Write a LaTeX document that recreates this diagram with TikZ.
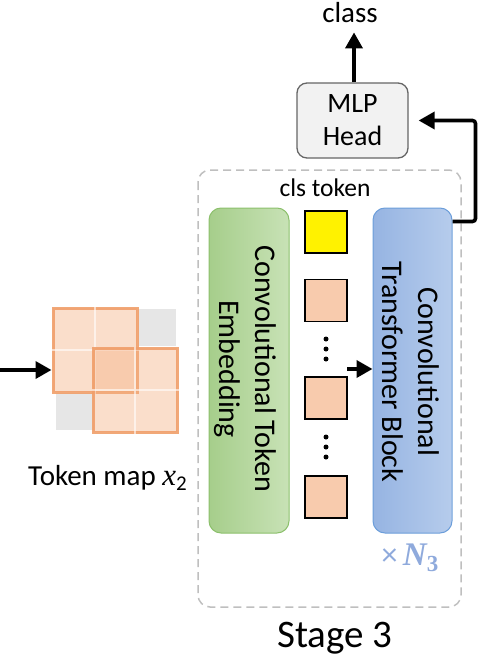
\documentclass[tikz,border=0pt]{standalone}
\usepackage{fontspec}
\setmainfont{Carlito}
\newfontfamily\serifm{Liberation Serif}
\usetikzlibrary{arrows.meta,calc}
\definecolor{grnL}{RGB}{166,206,139}
\definecolor{grnR}{RGB}{200,226,182}
\definecolor{grnB}{RGB}{140,192,108}
\definecolor{bluL}{RGB}{150,180,226}
\definecolor{bluR}{RGB}{182,204,236}
\definecolor{bluB}{RGB}{108,158,218}
\definecolor{tokfill}{RGB}{248,203,173}
\definecolor{patchfill}{RGB}{244,177,131}
\definecolor{patchedge}{RGB}{240,158,105}
\definecolor{cellgray}{RGB}{230,230,230}
\definecolor{dashgray}{RGB}{191,191,191}
\definecolor{mlpfill}{RGB}{242,242,242}
\definecolor{mlpedge}{RGB}{102,102,102}
\definecolor{nblue}{RGB}{143,170,220}
\begin{document}
\begin{tikzpicture}[x=1pt,y=-1pt,
  arr/.style={line width=3.6pt,-{Triangle[length=16pt,width=17pt]}},
  embbox/.style={rounded corners=12pt,draw=grnB,line width=1pt,left color=grnL,right color=grnR,minimum width=80pt,minimum height=325pt,inner sep=0pt},
  ctbbox/.style={rounded corners=12pt,draw=bluB,line width=1pt,left color=bluL,right color=bluR,minimum width=79pt,minimum height=325pt,inner sep=0pt},
  tokbox/.style={draw=black,line width=1.5pt,fill=tokfill,minimum size=42pt,inner sep=0pt},
  clsbox/.style={draw=black,line width=1.5pt,fill=yellow,minimum size=42pt,inner sep=0pt},
  patch/.style={draw=patchedge,draw opacity=0.9,line width=3pt,fill=patchfill,fill opacity=0.42,minimum size=84pt,inner sep=0pt},
  graycell/.style={fill=cellgray,minimum width=38pt,minimum height=37pt,inner sep=0pt},
  vtext/.style={rotate=-90,align=center,font=\fontsize{30}{36}\selectfont,inner sep=0pt},
  lbl/.style={inner sep=0pt,anchor=base},
  dotc/.style={fill=black,circle,inner sep=0pt,minimum size=5pt}
]
\useasboundingbox (0,0) rectangle (485,661);

% token map
\node[graycell] (g1) at (157,327.5) {};
\node[graycell] (g2) at (74.5,411.5) {};
\node[patch] (p1) at (95,350) {};
\draw[white,line width=2pt,opacity=0.6] (p1.north) -- (p1.south) (p1.west) -- (p1.east);
\node[patch] (p2) at (135,390) {};
\draw[white,line width=2pt,opacity=0.6] (p2.north) -- (p2.south) (p2.west) -- (p2.east);
\node[lbl,font=\fontsize{29}{34}\selectfont] (tm) at (107.5,485) {Token map {\fontsize{31}{34}\serifm\itshape x}\raisebox{-5pt}{\fontsize{21}{22}\selectfont 2}};
\coordinate (inp) at (0,370);
\draw[arr] (inp) -- (p1.west |- inp);

% stage frame
\draw[dashgray,line width=1.5pt,dash pattern=on 8pt off 5pt,rounded corners=12pt] (198,170) rectangle (461,607);
\node[lbl,font=\fontsize{39}{46}\selectfont] (stage) at (335,647) {Stage 3};
\node[lbl,font=\fontsize{25.5}{30}\selectfont] (clslbl) at (325,196) {cls token};

% embedding
\node[embbox] (emb) at (249,370.5) {};
\node[vtext] (embt) at (245,369) {Convolutional Token\\Embedding};

% tokens
\node[clsbox] (cls) at (326,232) {};
\node[tokbox] (t1) at (326,300.5) {};
\node[dotc] (d1a) at (326,339) {};
\node[dotc] (d1b) at (326,349) {};
\node[dotc] (d1c) at (326,359) {};
\node[tokbox] (t2) at (326,398) {};
\node[dotc] (d2a) at (326,437) {};
\node[dotc] (d2b) at (326,447) {};
\node[dotc] (d2c) at (326,457) {};
\node[tokbox] (t3) at (326,497) {};

% transformer block
\node[ctbbox] (ctb) at (412.5,370.5) {};
\node[vtext] (ctbt) at (410.5,372) {Convolutional\\Transformer Block};
\node[lbl,font=\fontsize{32}{36}\selectfont,text=nblue] (nrep) at (410,565) {×\,{\fontsize{33}{36}\serifm\bfseries\itshape N}\raisebox{-6pt}{\fontsize{23}{24}\serifm\bfseries 3}};
\coordinate (tokout) at (347,369);
\draw[arr] (tokout) -- (ctb.west |- tokout);

% MLP head
\node[draw=mlpedge,line width=1.3pt,fill=mlpfill,rounded corners=10pt,minimum width=111pt,minimum height=75pt,align=center,inner sep=0pt,font=\fontsize{28}{33}\selectfont] (mlp) at (352.5,120.5) {MLP\\Head};
\node[lbl,font=\fontsize{29}{34}\selectfont] (classlbl) at (350,23) {class};
\draw[arr] (mlp.north -| 354,0) -- ([yshift=-9pt]classlbl.south -| 354,0);
\coordinate (ctbout) at ($(ctb.north east)+(0,14)$);
\draw[arr,rounded corners=3pt] (ctbout) -- ++(23,0) |- ([xshift=10pt]mlp.east);
\end{tikzpicture}
\end{document}
